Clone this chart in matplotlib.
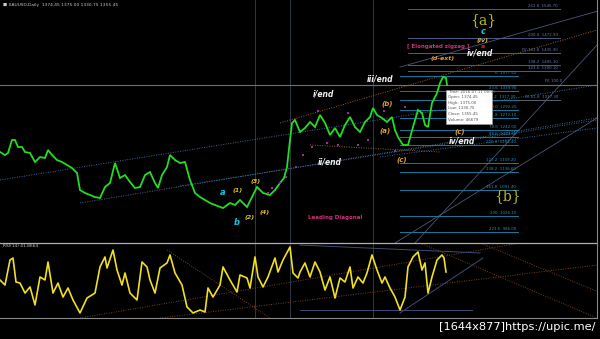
import matplotlib
matplotlib.use("Agg")
import matplotlib.pyplot as plt
from matplotlib.patches import Rectangle

# ---------------- data ----------------
symbol_header = "XAUUSD,Daily  1374.45 1375.00 1330.75 1355.45"

price_bar = [0, 5, 8, 12, 15, 18, 22, 25, 30, 35, 40, 45, 48, 52, 57, 62, 67, 72, 77, 80,
             85, 90, 95, 100, 105, 110, 115, 120, 125, 130, 135, 140, 145, 150, 155, 158, 162,
             167, 170, 175, 180, 185, 190, 195, 200, 205, 210, 215, 223, 230, 235, 240, 247,
             252, 257, 263, 270, 275, 280, 284, 287, 290, 292, 295, 300, 305, 310, 315, 320,
             325, 330, 335, 340, 345, 350, 355, 360, 365, 370, 373, 377, 382, 387, 392, 395,
             398, 403, 408, 413, 418, 422, 425, 428, 432, 437, 440, 443, 446, 447]
price_close = [1186.8, 1179.3, 1184.3, 1216.9, 1216.9, 1199.3, 1199.3, 1186.8, 1184.3, 1161.7,
               1174.2, 1171.7, 1191.8, 1179.3, 1166.7, 1161.7, 1154.2, 1146.6, 1134.1, 1091.4,
               1083.9, 1078.9, 1073.8, 1071.3, 1098.9, 1109.0, 1159.2, 1121.5, 1129.0, 1111.5,
               1096.4, 1098.9, 1129.0, 1136.6, 1109.0, 1096.4, 1129.0, 1149.1, 1179.3, 1166.7,
               1159.2, 1161.7, 1116.5, 1083.9, 1073.8, 1066.3, 1058.8, 1053.8, 1046.2, 1058.8,
               1053.8, 1066.3, 1048.7, 1073.8, 1098.9, 1083.9, 1078.9, 1091.4, 1109.0, 1121.5,
               1149.1, 1216.9, 1259.6, 1267.1, 1237.0, 1247.0, 1262.1, 1249.5, 1279.7, 1259.6,
               1229.5, 1247.0, 1224.4, 1254.5, 1274.6, 1249.5, 1237.0, 1262.1, 1274.6, 1297.2,
               1279.7, 1272.1, 1262.1, 1274.6, 1242.0, 1224.4, 1204.4, 1204.4, 1249.5, 1292.2,
               1284.7, 1254.5, 1249.5, 1309.8, 1334.9, 1360.0, 1375.0, 1372.5, 1354.9]

rsi_bar = [0, 5, 10, 13, 16, 20, 25, 30, 35, 40, 45, 48, 53, 58, 63, 68, 73, 80, 87, 95, 100,
           105, 107, 113, 117, 122, 125, 130, 137, 142, 147, 150, 155, 160, 167, 170, 175, 182,
           187, 193, 200, 205, 208, 213, 220, 223, 230, 237, 240, 247, 250, 255, 258, 263, 268,
           275, 278, 283, 290, 293, 298, 300, 305, 310, 315, 320, 325, 330, 335, 340, 345, 350,
           353, 358, 363, 367, 372, 377, 382, 385, 390, 395, 400, 405, 408, 413, 418, 422, 425,
           428, 432, 437, 442, 444, 446]
rsi_value = [50.8, 46.0, 69.8, 71.7, 48.9, 47.9, 38.4, 44.2, 27.1, 53.7, 50.8, 67.9, 38.4, 47.9,
             34.6, 43.2, 31.8, 19.5, 33.7, 38.4, 63.2, 72.7, 62.2, 79.3, 60.3, 46.0, 57.5, 38.4,
             31.8, 67.9, 63.2, 50.8, 38.4, 62.2, 67.0, 74.6, 57.5, 46.0, 25.2, 19.5, 22.3, 20.4,
             43.2, 34.6, 46.0, 63.2, 50.8, 39.4, 55.6, 52.7, 43.2, 72.7, 53.7, 44.2, 53.7, 71.7,
             58.4, 69.8, 82.2, 57.5, 52.7, 58.4, 67.0, 53.7, 67.9, 58.4, 41.3, 53.7, 33.7, 52.7,
             48.9, 63.2, 43.2, 53.7, 47.9, 57.5, 74.6, 60.3, 47.9, 53.7, 43.2, 34.6, 22.3, 34.6,
             63.2, 72.7, 77.4, 60.3, 67.0, 38.4, 53.7, 69.8, 74.6, 71.7, 58.4]
rsi_label = "RSI(14) 41.8664"

# Fibonacci levels (level text, price)
fib_ext_levels = ["261.8", "200.0", "FE 161.8", "138.2", "123.6", "FE 61.8"]
fib_ext_prices = [1545.7, 1472.9, 1435.3, 1405.1, 1390.1, 1317.3]
fib_ret_levels = ["0", "23.6", "38.2", "50.0", "61.8", "78.6", "88.6", "100.0",
                  "127.2", "138.2", "161.8", "200", "223.6"]
fib_ret_prices = [1377.5, 1339.9, 1317.3, 1292.2, 1272.1, 1242.0, 1224.4, 1204.4,
                  1159.2, 1136.6, 1091.4, 1026.1, 986.0]

tooltip_lines = ["Time: 2016.07.11 00:00", "Open: 1374.45", "High: 1375.00",
                 "Low: 1330.75", "Close: 1355.45", "Volume: 46679"]

# wave labels: text, bar, price, colour, size
wave_text = ["{a}", "c", "(iv)", "a", "iv/end", "[ Elongated zigzag ]", "(d-ext)",
             "iii/end", "i/end", "ii/end", "iv/end", "(b)", "(a)", "(c)", "(c)",
             "(1)", "(3)", "(2)", "(4)", "a", "b", "Leading Diagonal", "{b}"]
wave_bar = [483, 483, 483, 483, 480, 438, 443, 380, 323, 330, 462, 387, 385, 402, 460,
            238, 256, 250, 265, 223, 237, 335, 508]
wave_price = [1518.1, 1488.0, 1467.9, 1452.8, 1435.3, 1452.8, 1422.7, 1370.0, 1332.4,
              1161.7, 1214.4, 1307.3, 1239.5, 1166.7, 1237.0, 1091.4, 1114.0, 1023.6,
              1036.2, 1086.4, 1011.1, 1023.6, 1076.3]
wave_color = ["#b8b82a", "#10c8e8", "#e8b848", "#e02020", "#f0f0f0", "#d0307a", "#e0a030",
              "#f0f0f0", "#f0f0f0", "#f0f0f0", "#f0f0f0", "#e0a030", "#e0a030", "#e0a030",
              "#e0a030", "#e0c030", "#e0c030", "#e0c030", "#e0c030", "#10c8e8", "#10c8e8",
              "#d0307a", "#b8b82a"]
wave_size = [10, 6, 4.5, 4.5, 5.5, 4, 4.5, 5.5, 5.5, 5.5, 5.5, 5, 5, 5, 5,
             4.5, 4.5, 4.5, 4.5, 6, 6, 4, 10]

# small magenta wave markers along the price
mark_bar = [268, 272, 280, 286, 296, 303, 312, 318, 327, 338, 348, 358, 368, 384, 395, 405]
mark_price = [1083.9, 1096.4, 1108.0, 1125.0, 1149.0, 1180.0, 1199.0, 1290.0, 1210.0,
              1205.0, 1285.0, 1205.0, 1216.0, 1290.0, 1190.0, 1300.0]

# trend / channel lines (bar0, price0, bar1, price1)
blue_lines = [(0, 1116.5, 597, 1354.9), (80, 1058.8, 597, 1272.1),
              (180, 1101.4, 597, 1267.1), (380, 1174.2, 597, 1247.0)]
grey_lines = [(395, 958.4, 597, 1272.1), (415, 958.4, 597, 1455.3),
              (597, 1540.0, 400, 1400.0)]
orange_lines = [(280, 1259.6, 597, 1493.0), (310, 1204.4, 440, 1186.8)]
rsi_brown_lines = [(80, 14.7, 597, 98.3), (160, 14.7, 597, 65.0), (167, 79.3, 270, 14.7),
                   (420, 86.0, 597, 14.7), (480, 86.0, 597, 40.0)]
rsi_blue_lines = [(300, 84.0, 480, 76.5), (300, 22.3, 472, 22.3), (400, 19.5, 483, 71.7)]
vertical_bars = [255, 290, 373]
bid_price = 1355.45

# ---------------- figure ----------------
W, H = 600, 339
fig = plt.figure(figsize=(6, 3.39), dpi=100, facecolor="black")

ax = fig.add_axes([0, (H - 243) / H, 597 / W, 243 / H], facecolor="black")
ax.set_xlim(0, 597)
ax.set_ylim(958.4, 1568.3)
ax.axis("off")

rx = fig.add_axes([0, (H - 318) / H, 597 / W, 75 / H], facecolor="black")
rx.set_xlim(0, 597)
rx.set_ylim(14.7, 85.95)
rx.axis("off")

# vertical separators
for a in (ax, rx):
    for v in vertical_bars:
        a.axvline(v, color="#3a4050", lw=0.6, zorder=1)

# channel lines
for x0, y0, x1, y1 in blue_lines:
    ax.plot([x0, x1], [y0, y1], color="#3a6a9a", lw=0.7, ls=(0, (1, 1.5)), zorder=2)
for x0, y0, x1, y1 in grey_lines:
    ax.plot([x0, x1], [y0, y1], color="#4a5678", lw=0.6, zorder=2)
for x0, y0, x1, y1 in orange_lines:
    ax.plot([x0, x1], [y0, y1], color="#9a6030", lw=0.7, ls=(0, (1, 1.5)), zorder=2)

# bid line
ax.axhline(bid_price, color="#707070", lw=0.8, zorder=2)
ax.text(545, bid_price + 4, "FE 100.0", color="#7080a0", fontsize=2.8, ha="left", va="bottom")

# fib extension lines
for lvl, p in zip(fib_ext_levels, fib_ext_prices):
    col = "#505a88" if not lvl.startswith("FE 61") else "#5a6070"
    ax.plot([408, 560], [p, p], color=col, lw=0.7, zorder=2)
    ax.text(558, p + 2, f"{lvl}  {p:.2f}", color="#6a78b0", fontsize=2.8,
            ha="right", va="bottom")

# fib retracement lines
for lvl, p in zip(fib_ret_levels, fib_ret_prices):
    ax.plot([400, 518], [p, p], color="#1a7aa0", lw=0.7, zorder=2)
    ax.text(516, p + 2, f"{lvl}  {p:.2f}", color="#2a90c0", fontsize=2.8,
            ha="right", va="bottom")

# price line
ax.plot(price_bar, price_close, color="#22dd22", lw=1.3, zorder=4, solid_joinstyle="miter")

# markers
ax.scatter(mark_bar, mark_price, s=3, marker="s", color="#9a2aa8", zorder=5, lw=0)

# wave labels
for t, b, p, c, s in zip(wave_text, wave_bar, wave_price, wave_color, wave_size):
    style = "normal" if t.startswith("{") or t.startswith("[") or t == "Leading Diagonal" else "italic"
    weight = "normal" if t.startswith("{") else "bold"
    fam = "DejaVu Serif" if t.startswith("{") else "DejaVu Sans"
    ax.text(b, p, t, color=c, fontsize=s, ha="center", va="center",
            fontstyle=style, fontweight=weight, family=fam, zorder=6)

# tooltip
ax.add_patch(Rectangle((446, 1257.0), 46, 86.0, facecolor="white", edgecolor="#999999",
                       lw=0.5, zorder=7))
for i, line in enumerate(tooltip_lines):
    ax.text(448, 1338.0 - i * 14.0, line, color="#555555", fontsize=2.9,
            ha="left", va="center", zorder=8)

# header text
fig.text(3 / W, 1 - 5 / H, "■ " + symbol_header, color="#c8c8c8", fontsize=3.2,
         ha="left", va="center")

# RSI
rx.plot(rsi_bar, rsi_value, color="#f0e020", lw=1.2, zorder=4)
for x0, y0, x1, y1 in rsi_brown_lines:
    rx.plot([x0, x1], [y0, y1], color="#7a4020", lw=0.7, ls=(0, (1, 1.5)), zorder=2)
for x0, y0, x1, y1 in rsi_blue_lines:
    rx.plot([x0, x1], [y0, y1], color="#404a78", lw=0.7, zorder=2)
fig.text(3 / W, 1 - 246 / H, rsi_label, color="#c8c8c8", fontsize=3.2,
         ha="left", va="center")

# panel frames
fig.add_artist(plt.Line2D([0, 597 / W], [1 - 243 / H, 1 - 243 / H],
                          color="#b0b0b0", lw=0.9, transform=fig.transFigure))
fig.add_artist(plt.Line2D([0, 597 / W], [1 - 318 / H, 1 - 318 / H],
                          color="#8a8a8a", lw=0.8, transform=fig.transFigure))
fig.add_artist(plt.Line2D([597 / W, 597 / W], [1 - 318 / H, 1],
                          color="#8a8a8a", lw=0.8, transform=fig.transFigure))

# watermark
fig.text(595 / W, 1 - 327 / H, "[1644x877]https://upic.me/", color="white", fontsize=8.2,
         ha="right", va="center", family="DejaVu Sans")

fig.savefig("out.png", dpi=100, facecolor="black")
